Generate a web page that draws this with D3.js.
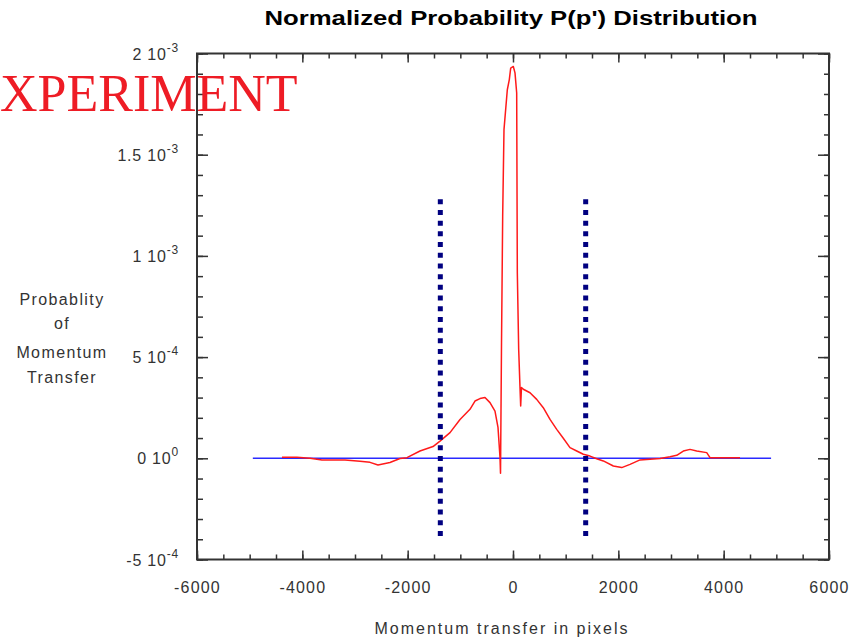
<!DOCTYPE html>
<html>
<head>
<meta charset="utf-8">
<script src="https://cdn.jsdelivr.net/npm/d3@7"></script>
<style>
  body { margin: 0; background: #fff; }
  svg { display: block; }
</style>
</head>
<body>
<svg id="chart" width="854" height="640"></svg>
<script>
// momentum transfer (pixels) and probability (units of 1e-4)
const momentum = [
  -4387, -4235, -4102, -3855, -3627, -3190, -2905, -2715, -2564, -2336,
  -2146, -2013, -1766, -1519, -1386, -1196, -1006, -817, -722, -627,
  -532, -437, -342, -285, -247, -237, -218, -196, -171, -108,
  -70, -44, 6, 38, 70, 82, 108, 133, 146, 161,
  196, 323, 450, 575, 703, 830, 955, 1082, 1210, 1335,
  1462, 1589, 1715, 1905, 2064, 2222, 2412, 2602, 2792, 2981,
  3109, 3234, 3361, 3488, 3678, 3741, 3994, 4184, 4311
];
const probability = [
  0.05, 0.05, 0.05, 0, -0.08, -0.08, -0.15, -0.2, -0.33, -0.21,
  -0.01, 0.03, 0.36, 0.58, 0.85, 1.27, 1.92, 2.42, 2.83, 2.95,
  3.0, 2.75, 2.33, 1.53, 0.05, -0.74, 5.73, 11.96, 16.24, 18.21,
  18.71, 19.28, 19.36, 19.04, 18.05, 9.18, 5.38, 3.49, 2.58, 3.5,
  3.41, 3.24, 2.91, 2.5, 1.92, 1.43, 0.99, 0.53, 0.36, 0.2,
  0.11, -0.02, -0.13, -0.38, -0.46, -0.3, -0.08, -0.05, -0.01, 0.08,
  0.15, 0.36, 0.44, 0.36, 0.28, 0.03, 0.03, 0.03, 0.03
];
const yTicks = [2e-3, 1.5e-3, 1e-3, 5e-4, 0, -5e-4];
const yTickMantissa = ["2 10", "1.5 10", "1 10", "5 10", "0 10", "-5 10"];
const yTickExponent = ["-3", "-3", "-3", "-4", "0", "-4"];
const xTicks = [-6000, -4000, -2000, 0, 2000, 4000, 6000];
const cutPositions = [-1380, 1380];
const cutExtent = [-3.85e-4, 1.28e-3];
const baselineExtent = [-4940, 4900];
const yLabelLines = ["Probablity", "of", "Momentum", "Transfer"];

const svg = d3.select('#chart');
const frame = { left: 197, right: 829, top: 53.5, bottom: 559.5 };
const font = 'Liberation Sans, Arial, sans-serif';
const ink = '#333';

const x = d3.scaleLinear().domain([-6000, 6000]).range([frame.left, frame.right]);
const y = d3.scaleLinear().domain([-5e-4, 2e-3]).range([frame.bottom, frame.top]);

// Title
svg.append('text')
  .attr('x', 511)
  .attr('y', 25)
  .attr('text-anchor', 'middle')
  .attr('textLength', 493)
  .attr('lengthAdjust', 'spacingAndGlyphs')
  .style('font-family', font)
  .style('font-weight', 'bold')
  .style('font-size', '20px')
  .style('fill', '#000')
  .text("Normalized Probability P(p') Distribution");

// Ticks (inward, on all four sides)
const xMinor = d3.range(-6000, 6001, 500);
const yMinor = d3.range(-5, 21).map(d => d * 1e-4);

const tickGroup = svg.append('g').style('color', ink);

const drawTicks = (axis, transform) => {
  tickGroup.append('g')
    .attr('transform', transform)
    .call(axis)
    .call(g => g.select('.domain').remove())
    .call(g => g.selectAll('line').attr('stroke-width', 1.5));
};

drawTicks(d3.axisBottom(x).tickValues(xMinor).tickSize(-5).tickFormat(''), `translate(0,${frame.bottom})`);
drawTicks(d3.axisBottom(x).tickValues(xTicks).tickSize(-9).tickFormat(''), `translate(0,${frame.bottom})`);
drawTicks(d3.axisTop(x).tickValues(xMinor).tickSize(-5).tickFormat(''), `translate(0,${frame.top})`);
drawTicks(d3.axisTop(x).tickValues(xTicks).tickSize(-9).tickFormat(''), `translate(0,${frame.top})`);
drawTicks(d3.axisLeft(y).tickValues(yMinor).tickSize(-6).tickFormat(''), `translate(${frame.left},0)`);
drawTicks(d3.axisLeft(y).tickValues(yTicks).tickSize(-11).tickFormat(''), `translate(${frame.left},0)`);
drawTicks(d3.axisRight(y).tickValues(yMinor).tickSize(-5).tickFormat(''), `translate(${frame.right},0)`);
drawTicks(d3.axisRight(y).tickValues(yTicks).tickSize(-11).tickFormat(''), `translate(${frame.right},0)`);

// Frame
svg.append('rect')
  .attr('x', frame.left)
  .attr('y', frame.top)
  .attr('width', frame.right - frame.left)
  .attr('height', frame.bottom - frame.top)
  .attr('fill', 'none')
  .attr('stroke', ink)
  .attr('stroke-width', 2);

// X tick labels
svg.append('g')
  .attr('transform', `translate(0,${frame.bottom})`)
  .call(d3.axisBottom(x).tickValues(xTicks).tickSize(0).tickPadding(22).tickFormat(d => String(d)))
  .call(g => g.select('.domain').remove())
  .call(g => g.selectAll('text')
    .style('font-family', font)
    .style('font-size', '16px')
    .style('letter-spacing', '1.2px')
    .style('fill', ink));

// Y tick labels with exponent
const yLabels = svg.append('g')
  .selectAll('text')
  .data(yTicks)
  .join('text')
  .attr('x', 179)
  .attr('y', d => y(d) + 6)
  .attr('text-anchor', 'end')
  .style('font-family', font)
  .style('font-size', '16px')
  .style('letter-spacing', '0.8px')
  .style('fill', ink);

yLabels.append('tspan').text((d, i) => yTickMantissa[i]);
yLabels.append('tspan')
  .attr('dy', -8)
  .style('font-size', '12px')
  .text((d, i) => yTickExponent[i]);

// Axis titles
svg.append('text')
  .attr('x', 501)
  .attr('y', 634)
  .attr('text-anchor', 'middle')
  .attr('textLength', 253)
  .attr('lengthAdjust', 'spacing')
  .style('font-family', font)
  .style('font-size', '16px')
  .style('fill', ink)
  .text('Momentum transfer in pixels');

svg.append('g')
  .selectAll('text')
  .data(yLabelLines)
  .join('text')
  .attr('x', 62)
  .attr('y', (d, i) => [305, 329, 358, 383][i])
  .attr('text-anchor', 'middle')
  .style('font-family', font)
  .style('font-size', '16px')
  .style('letter-spacing', '1.4px')
  .style('fill', ink)
  .text(d => d);

// Zero baseline
svg.append('line')
  .attr('x1', x(baselineExtent[0]))
  .attr('x2', x(baselineExtent[1]))
  .attr('y1', y(0))
  .attr('y2', y(0))
  .attr('stroke', '#2a2aff')
  .attr('stroke-width', 1.5);

// Distribution curve
const line = d3.line()
  .x((d, i) => x(momentum[i]))
  .y(d => y(d * 1e-4));

svg.append('path')
  .datum(probability)
  .attr('d', line)
  .attr('fill', 'none')
  .attr('stroke', '#ff1a1a')
  .attr('stroke-width', 1.5)
  .attr('stroke-linejoin', 'round');

// Dotted cut lines
svg.append('g')
  .selectAll('line')
  .data(cutPositions)
  .join('line')
  .attr('x1', d => x(d))
  .attr('x2', d => x(d))
  .attr('y1', y(cutExtent[1]))
  .attr('y2', y(cutExtent[0]))
  .attr('stroke', '#000080')
  .attr('stroke-width', 5)
  .attr('stroke-dasharray', '5 5.7');

// Overlay label
svg.append('text')
  .attr('x', 0)
  .attr('y', 111)
  .style('font-family', 'Liberation Serif, Times New Roman, serif')
  .style('font-size', '52px')
  .style('fill', '#ee1c25')
  .text('XPERIMENT');
</script>
</body>
</html>
